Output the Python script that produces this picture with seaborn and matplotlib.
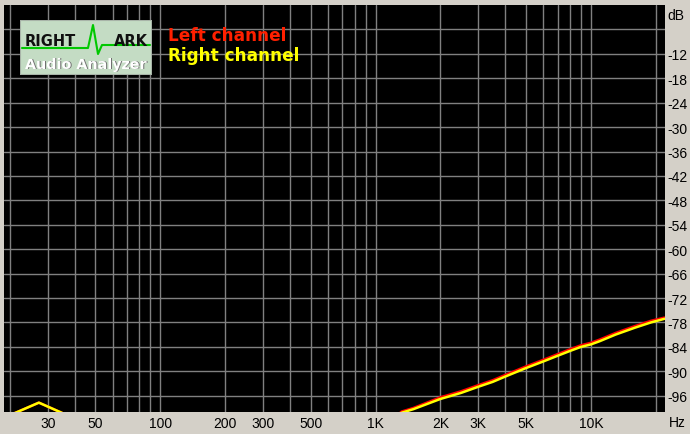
import matplotlib
matplotlib.use("Agg")
import matplotlib.pyplot as plt
from matplotlib.patches import Rectangle
import numpy as np
import pandas as pd
import seaborn as sns

# frequency response data (Hz, dB)
freq = [20, 27.3, 37, 45, 1000, 1320, 1500, 2000, 2500, 3000, 3500, 4000, 5000,
        6000, 7000, 8000, 9000, 10000, 11000, 13000, 16000, 19000, 22000]
right_db = [-100.8, -97.7, -100.8, -110, -106, -100.2, -99.3, -96.8, -95.3, -93.8,
            -92.6, -91.3, -89.2, -87.6, -86.2, -85.0, -84.0, -83.4, -82.6, -81.0,
            -79.3, -78.0, -77.1]
left_db = [-100.8, -97.7, -100.8, -110, -106, -99.9, -99.0, -96.4, -94.9, -93.4,
           -92.2, -90.9, -88.8, -87.2, -85.8, -84.6, -83.6, -83.0, -82.2, -80.6,
           -78.9, -77.6, -76.8]

x_major = [30, 50, 100, 200, 300, 500, 1000, 2000, 3000, 5000, 10000]
x_labels = ["30", "50", "100", "200", "300", "500", "1K", "2K", "3K", "5K", "10K"]
x_minor = [20, 40, 60, 70, 80, 90, 400, 600, 700, 800, 900,
           4000, 6000, 7000, 8000, 9000, 20000]
y_ticks = list(range(-6, -97, -6))

df = pd.DataFrame({
    "freq": freq * 2,
    "dB": left_db + right_db,
    "channel": ["Left channel"] * len(freq) + ["Right channel"] * len(freq),
})

sns.set_theme(style="dark")
plt.rcParams['font.family'] = ['Liberation Sans', 'DejaVu Sans']

W, H = 690, 435
fig = plt.figure(figsize=(6.9, 4.35), dpi=100, facecolor="#d4d0c8")
ax = fig.add_axes([4 / W, 22 / H, 661 / W, 407 / H])
ax.set_facecolor("black")

sns.lineplot(data=df, x="freq", y="dB", hue="channel", sort=False,
             hue_order=["Left channel", "Right channel"],
             palette={"Left channel": "#ff0000", "Right channel": "#ffff00"},
             linewidth=1.8, legend=False, ax=ax)

ax.set_xscale("log")
ax.set_xlim(18.8, 22100)
ax.set_ylim(-100, 0)
ax.set_xticks(x_major)
ax.set_xticklabels(x_labels)
ax.set_xticks(x_minor, minor=True)
ax.set_xticklabels([], minor=True)
ax.set_yticks(y_ticks)
ax.set_yticklabels([""] + [str(v) for v in y_ticks[1:]])
ax.yaxis.tick_right()
ax.tick_params(axis="both", which="both", length=0, labelsize=10, colors="black")
ax.tick_params(axis="y", pad=2)
ax.tick_params(axis="x", pad=3)
ax.grid(True, which="both", color="#808080", linewidth=1.0)
ax.set_axisbelow(True)
ax.set_xlabel("")
ax.set_ylabel("")
for s in ax.spines.values():
    s.set_visible(False)

fig.text(667 / W, 1 - 16 / H, "dB", fontsize=10, color="black", va="center", ha="left")
fig.text(677 / W, 1 - 423 / H, "Hz", fontsize=10, color="black", va="center", ha="center")

# legend text
ax.text(168 / W, 1 - 36 / H, "Left channel", transform=fig.transFigure,
        color="#ff2000", fontsize=12.2, fontweight="bold", family="DejaVu Sans",
        va="center", ha="left")
ax.text(168 / W, 1 - 56 / H, "Right channel", transform=fig.transFigure,
        color="#ffff00", fontsize=12.2, fontweight="bold", family="DejaVu Sans",
        va="center", ha="left")

# RightMark logo
lg = fig.add_axes([20 / W, 1 - 76 / H, 132 / W, 55 / H])
lg.set_xlim(20, 152)
lg.set_ylim(76, 21)
lg.axis("off")
lg.add_patch(Rectangle((20, 21), 132, 55, facecolor="#c4dcc4", edgecolor="#a8b4a8",
                       linewidth=1.5))
lg.text(25, 42, "RIGHT", fontsize=10.5, fontweight="bold", family="DejaVu Sans",
        color="#101010", va="center", ha="left")
lg.text(148, 42, "ARK", fontsize=10.5, fontweight="bold", family="DejaVu Sans",
        color="#101010", va="center", ha="right")
lg.plot([22, 88, 93, 98, 102, 150], [49, 49, 26, 55, 46, 46], color="#00c800",
        linewidth=1.5)
lg.text(87, 65.5, "Audio Analyzer", fontsize=10.3, fontweight="bold",
        family="DejaVu Sans", color="#707070", va="center", ha="center")
lg.text(86.3, 64.8, "Audio Analyzer", fontsize=10.3, fontweight="bold",
        family="DejaVu Sans", color="white", va="center", ha="center")

fig.savefig("out.png", dpi=100, facecolor=fig.get_facecolor())
